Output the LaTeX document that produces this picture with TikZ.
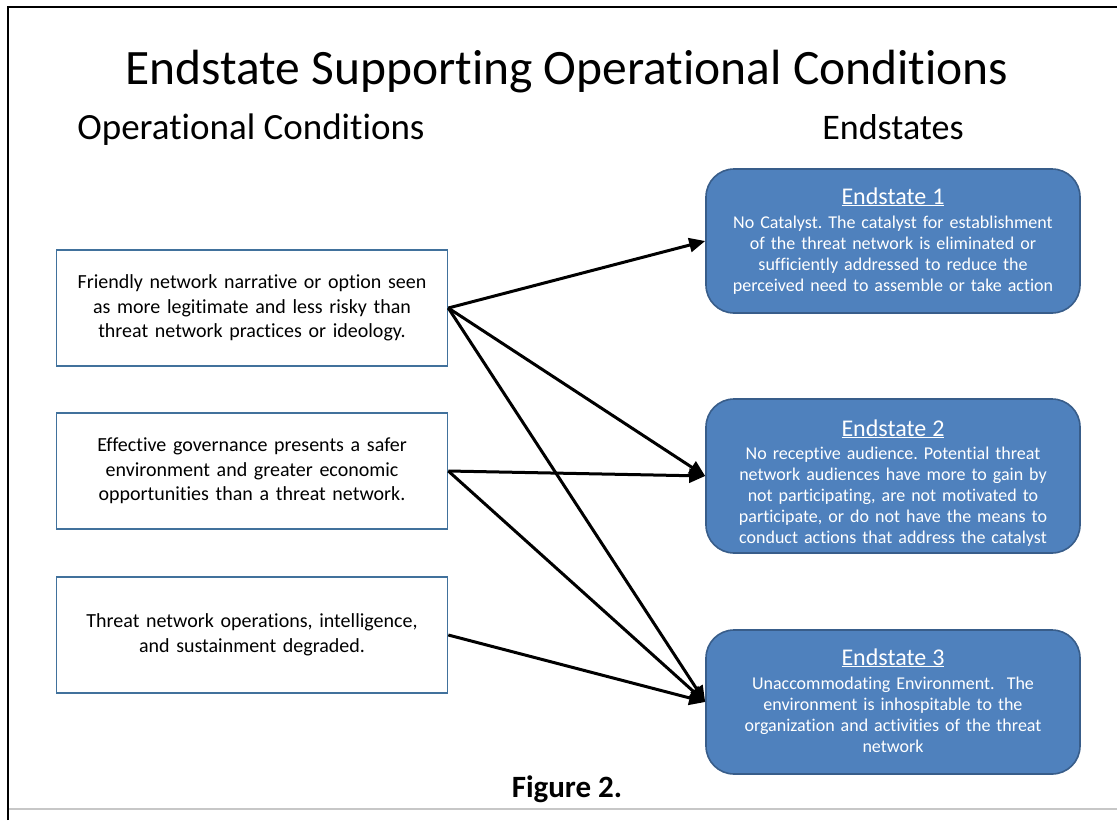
\documentclass[tikz,border=0pt]{standalone}
\usepackage{fontspec}
\setmainfont{Carlito}[Ligatures=NoCommon]
\usetikzlibrary{arrows.meta}
\definecolor{condblue}{HTML}{41719C}
\definecolor{endblue}{HTML}{4F81BD}
\definecolor{enddark}{HTML}{385D8A}
\newcommand\esheadfont{\fontsize{24}{26}\selectfont}
\frenchspacing
\hyphenpenalty=10000
\exhyphenpenalty=10000
\begin{document}
\begin{tikzpicture}[x=1pt,y=-1pt,
  condbox/.style={draw=condblue, line width=1.6pt, fill=white, minimum width=391pt, minimum height=116pt, inner sep=0pt, text width=385pt, align=center, font=\fontsize{20}{24.5}\selectfont},
  endbox/.style={draw=enddark, line width=1.6pt, fill=endblue, rounded corners=28pt, minimum width=374pt, minimum height=144pt, inner sep=0pt},
  endtext/.style={text=white, align=center, text width=370pt, inner sep=0pt, anchor=north, font=\fontsize{18}{20.9}\selectfont},
  arr/.style={line width=3pt, -{Triangle[length=16pt,width=14pt]}},
  titletext/.style={anchor=base, inner sep=0pt}
]
\useasboundingbox (0,0) rectangle (1117,820);
% frame
\draw[line width=2.5pt] (8,820) -- (8,7) -- (1117,7);
\draw[black!22, line width=1.2pt] (9,809) -- (1117,809);

% titles
\node[titletext, font=\fontsize{49.5}{53}\selectfont] (title) at (567,84) {Endstate Supporting Operational Conditions};
\node[titletext, font=\fontsize{37}{40}\selectfont] (lhead) at (251,139) {Operational Conditions};
\node[titletext, font=\fontsize{36}{40}\selectfont] (rhead) at (893,139) {Endstates};
\node[titletext, font=\bfseries\fontsize{31}{34}\selectfont] (fig) at (567,797) {Figure 2.};

% condition boxes
\node[condbox] (c1) at (252,308) {\raisebox{-2pt}{\parbox{385pt}{\centering Friendly network narrative or option seen\\as more legitimate and less risky than\\threat network practices or ideology.}}};
\node[condbox] (c2) at (252,471) {\raisebox{-2pt}{\parbox{385pt}{\centering Effective governance presents a safer\\environment and greater economic\\opportunities than a threat network.}}};
\node[condbox] (c3) at (252,635) {\raisebox{-2pt}{\parbox{385pt}{\centering Threat network operations, intelligence,\\and sustainment degraded.}}};

% endstate boxes
\node[endbox] (e1) at (893,241) {};
\node[endbox, minimum height=154pt] (e2) at (893,476) {};
\node[endbox] (e3) at (893,702) {};

\node[endtext] (t1) at ([yshift=-19pt]e1.north) {{\esheadfont\underline{Endstate 1}}\\[3.5pt]No Catalyst. The catalyst for establishment\\of the threat network is eliminated or\\sufficiently addressed to reduce the\\perceived need to assemble or take action};
\node[endtext] (t2) at ([yshift=-21pt]e2.north) {{\esheadfont\underline{Endstate 2}}\\[3pt]No receptive audience. Potential threat\\network audiences have more to gain by\\not participating, are not motivated to\\participate, or do not have the means to\\conduct actions that address the catalyst};
\node[endtext] (t3) at ([yshift=-19pt]e3.north) {{\esheadfont\underline{Endstate 3}}\\[3.5pt]Unaccommodating Environment.\ \ The\\environment is inhospitable to the\\organization and activities of the threat\\network};

% arrows
\draw[arr] (c1.east) -- (e1.west);
\draw[arr] (c1.east) -- (e2.west);
\draw[arr] (c1.east) -- (e3.west);
\draw[arr] (c2.east) -- (e2.west);
\draw[arr] (c2.east) -- (e3.west);
\draw[arr] (c3.east) -- (e3.west);
\end{tikzpicture}
\end{document}
